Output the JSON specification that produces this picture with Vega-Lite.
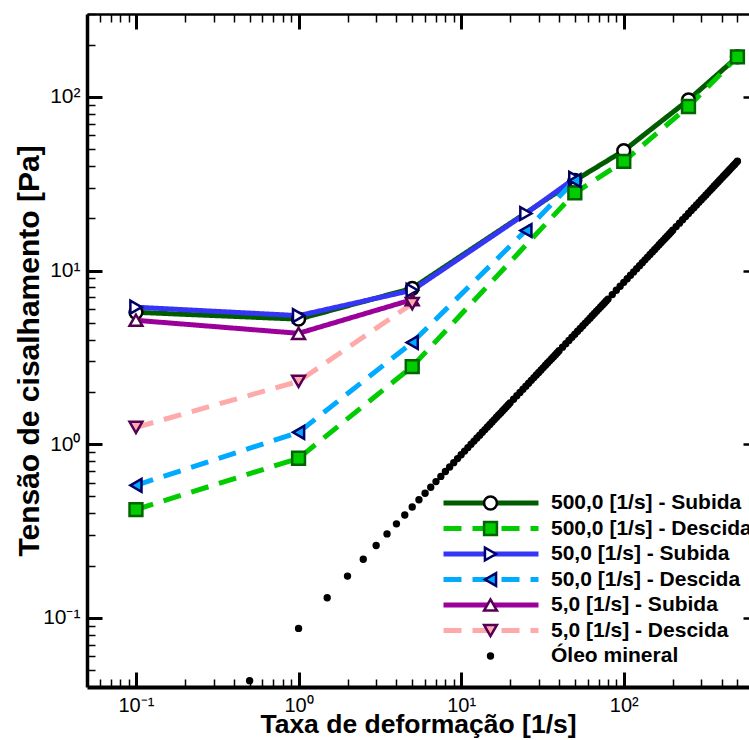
{
  "$schema": "https://vega.github.io/schema/vega-lite/v6.json",
  "width": 662,
  "height": 673,
  "autosize": "none",
  "padding": {"left": 87, "top": 14, "right": 0, "bottom": 53},
  "config": {
    "view": {"stroke": null},
    "font": "Liberation Sans",
    "axis": {
      "grid": false,
      "domainColor": "black",
      "domainWidth": 3,
      "tickColor": "black",
      "labelFont": "Liberation Sans",
      "labelFontSize": 21,
      "labelColor": "black",
      "labelFlush": false,
      "labelOverlap": false,
      "labelBound": false,
      "titleFont": "Liberation Sans",
      "titleFontWeight": "bold",
      "titleColor": "black"
    },
    "legend": {
      "padding": 0,
      "labelFont": "Liberation Sans",
      "labelFontSize": 21,
      "labelFontWeight": "bold",
      "labelColor": "black",
      "rowPadding": 5.5,
      "clipHeight": 20,
      "labelLimit": 400
    }
  },
  "data": {
    "values": [
      {"s": "500,0 [1/s] - Subida", "x": 0.1, "y": 5.75},
      {"s": "500,0 [1/s] - Subida", "x": 1, "y": 5.25},
      {"s": "500,0 [1/s] - Subida", "x": 5, "y": 7.9},
      {"s": "500,0 [1/s] - Subida", "x": 50, "y": 33},
      {"s": "500,0 [1/s] - Subida", "x": 100, "y": 49},
      {"s": "500,0 [1/s] - Subida", "x": 250, "y": 96},
      {"s": "500,0 [1/s] - Subida", "x": 500, "y": 170},
      {"s": "500,0 [1/s] - Descida", "x": 0.1, "y": 0.42},
      {"s": "500,0 [1/s] - Descida", "x": 1, "y": 0.83},
      {"s": "500,0 [1/s] - Descida", "x": 5, "y": 2.8},
      {"s": "500,0 [1/s] - Descida", "x": 50, "y": 28},
      {"s": "500,0 [1/s] - Descida", "x": 100, "y": 42.5},
      {"s": "500,0 [1/s] - Descida", "x": 250, "y": 88},
      {"s": "500,0 [1/s] - Descida", "x": 500, "y": 170},
      {"s": "50,0 [1/s] - Subida", "x": 0.1, "y": 6.15},
      {"s": "50,0 [1/s] - Subida", "x": 1, "y": 5.5},
      {"s": "50,0 [1/s] - Subida", "x": 5, "y": 7.7},
      {"s": "50,0 [1/s] - Subida", "x": 25, "y": 21.3},
      {"s": "50,0 [1/s] - Subida", "x": 50, "y": 34},
      {"s": "50,0 [1/s] - Descida", "x": 0.1, "y": 0.58},
      {"s": "50,0 [1/s] - Descida", "x": 1, "y": 1.17},
      {"s": "50,0 [1/s] - Descida", "x": 5, "y": 3.85},
      {"s": "50,0 [1/s] - Descida", "x": 25, "y": 17},
      {"s": "50,0 [1/s] - Descida", "x": 50, "y": 33},
      {"s": "5,0 [1/s] - Subida", "x": 0.1, "y": 5.17},
      {"s": "5,0 [1/s] - Subida", "x": 1, "y": 4.35},
      {"s": "5,0 [1/s] - Subida", "x": 5, "y": 6.8},
      {"s": "5,0 [1/s] - Descida", "x": 0.1, "y": 1.25},
      {"s": "5,0 [1/s] - Descida", "x": 1, "y": 2.3},
      {"s": "5,0 [1/s] - Descida", "x": 5, "y": 6.45},
      {"s": "Óleo mineral", "x": 0.5, "y": 0.0435},
      {"s": "Óleo mineral", "x": 1, "y": 0.087},
      {"s": "Óleo mineral", "x": 1.5, "y": 0.1305},
      {"s": "Óleo mineral", "x": 2, "y": 0.174},
      {"s": "Óleo mineral", "x": 2.5, "y": 0.2175},
      {"s": "Óleo mineral", "x": 3, "y": 0.261},
      {"s": "Óleo mineral", "x": 3.5, "y": 0.3045},
      {"s": "Óleo mineral", "x": 4, "y": 0.348},
      {"s": "Óleo mineral", "x": 4.5, "y": 0.3915},
      {"s": "Óleo mineral", "x": 5, "y": 0.435},
      {"s": "Óleo mineral", "x": 5.5, "y": 0.4785},
      {"s": "Óleo mineral", "x": 6, "y": 0.522},
      {"s": "Óleo mineral", "x": 6.5, "y": 0.5655},
      {"s": "Óleo mineral", "x": 7, "y": 0.609},
      {"s": "Óleo mineral", "x": 7.5, "y": 0.6525},
      {"s": "Óleo mineral", "x": 8, "y": 0.696},
      {"s": "Óleo mineral", "x": 8.5, "y": 0.7395},
      {"s": "Óleo mineral", "x": 9, "y": 0.783},
      {"s": "Óleo mineral", "x": 9.5, "y": 0.8265},
      {"s": "Óleo mineral", "x": 10, "y": 0.87},
      {"s": "Óleo mineral", "x": 10.5, "y": 0.913},
      {"s": "Óleo mineral", "x": 11, "y": 0.956},
      {"s": "Óleo mineral", "x": 11.5, "y": 0.999},
      {"s": "Óleo mineral", "x": 12, "y": 1.042},
      {"s": "Óleo mineral", "x": 12.5, "y": 1.085},
      {"s": "Óleo mineral", "x": 13, "y": 1.128},
      {"s": "Óleo mineral", "x": 13.5, "y": 1.171},
      {"s": "Óleo mineral", "x": 14, "y": 1.214},
      {"s": "Óleo mineral", "x": 14.5, "y": 1.257},
      {"s": "Óleo mineral", "x": 15, "y": 1.3},
      {"s": "Óleo mineral", "x": 15.5, "y": 1.343},
      {"s": "Óleo mineral", "x": 16, "y": 1.386},
      {"s": "Óleo mineral", "x": 16.5, "y": 1.429},
      {"s": "Óleo mineral", "x": 17, "y": 1.472},
      {"s": "Óleo mineral", "x": 17.5, "y": 1.515},
      {"s": "Óleo mineral", "x": 18, "y": 1.558},
      {"s": "Óleo mineral", "x": 18.5, "y": 1.601},
      {"s": "Óleo mineral", "x": 19, "y": 1.644},
      {"s": "Óleo mineral", "x": 19.5, "y": 1.687},
      {"s": "Óleo mineral", "x": 20, "y": 1.73},
      {"s": "Óleo mineral", "x": 21, "y": 1.816},
      {"s": "Óleo mineral", "x": 22, "y": 1.902},
      {"s": "Óleo mineral", "x": 23, "y": 1.988},
      {"s": "Óleo mineral", "x": 24, "y": 2.074},
      {"s": "Óleo mineral", "x": 25, "y": 2.16},
      {"s": "Óleo mineral", "x": 26, "y": 2.246},
      {"s": "Óleo mineral", "x": 27, "y": 2.332},
      {"s": "Óleo mineral", "x": 28, "y": 2.418},
      {"s": "Óleo mineral", "x": 29, "y": 2.504},
      {"s": "Óleo mineral", "x": 30, "y": 2.59},
      {"s": "Óleo mineral", "x": 31, "y": 2.676},
      {"s": "Óleo mineral", "x": 32, "y": 2.762},
      {"s": "Óleo mineral", "x": 33, "y": 2.848},
      {"s": "Óleo mineral", "x": 34, "y": 2.934},
      {"s": "Óleo mineral", "x": 35, "y": 3.02},
      {"s": "Óleo mineral", "x": 36, "y": 3.106},
      {"s": "Óleo mineral", "x": 37, "y": 3.192},
      {"s": "Óleo mineral", "x": 38, "y": 3.278},
      {"s": "Óleo mineral", "x": 39, "y": 3.364},
      {"s": "Óleo mineral", "x": 40, "y": 3.45},
      {"s": "Óleo mineral", "x": 42, "y": 3.62},
      {"s": "Óleo mineral", "x": 44, "y": 3.79},
      {"s": "Óleo mineral", "x": 46, "y": 3.96},
      {"s": "Óleo mineral", "x": 48, "y": 4.13},
      {"s": "Óleo mineral", "x": 50, "y": 4.3},
      {"s": "Óleo mineral", "x": 52, "y": 4.47},
      {"s": "Óleo mineral", "x": 54, "y": 4.64},
      {"s": "Óleo mineral", "x": 56, "y": 4.81},
      {"s": "Óleo mineral", "x": 58, "y": 4.98},
      {"s": "Óleo mineral", "x": 60, "y": 5.15},
      {"s": "Óleo mineral", "x": 62, "y": 5.32},
      {"s": "Óleo mineral", "x": 64, "y": 5.49},
      {"s": "Óleo mineral", "x": 66, "y": 5.66},
      {"s": "Óleo mineral", "x": 68, "y": 5.83},
      {"s": "Óleo mineral", "x": 70, "y": 6.0},
      {"s": "Óleo mineral", "x": 72, "y": 6.17},
      {"s": "Óleo mineral", "x": 74, "y": 6.34},
      {"s": "Óleo mineral", "x": 76, "y": 6.51},
      {"s": "Óleo mineral", "x": 78, "y": 6.68},
      {"s": "Óleo mineral", "x": 80, "y": 6.85},
      {"s": "Óleo mineral", "x": 85, "y": 7.27},
      {"s": "Óleo mineral", "x": 90, "y": 7.7},
      {"s": "Óleo mineral", "x": 95, "y": 8.12},
      {"s": "Óleo mineral", "x": 100, "y": 8.55},
      {"s": "Óleo mineral", "x": 105, "y": 8.97},
      {"s": "Óleo mineral", "x": 110, "y": 9.4},
      {"s": "Óleo mineral", "x": 115, "y": 9.82},
      {"s": "Óleo mineral", "x": 120, "y": 10.25},
      {"s": "Óleo mineral", "x": 125, "y": 10.67},
      {"s": "Óleo mineral", "x": 130, "y": 11.1},
      {"s": "Óleo mineral", "x": 135, "y": 11.52},
      {"s": "Óleo mineral", "x": 140, "y": 11.95},
      {"s": "Óleo mineral", "x": 145, "y": 12.37},
      {"s": "Óleo mineral", "x": 150, "y": 12.8},
      {"s": "Óleo mineral", "x": 155, "y": 13.22},
      {"s": "Óleo mineral", "x": 160, "y": 13.65},
      {"s": "Óleo mineral", "x": 165, "y": 14.07},
      {"s": "Óleo mineral", "x": 170, "y": 14.5},
      {"s": "Óleo mineral", "x": 175, "y": 14.92},
      {"s": "Óleo mineral", "x": 180, "y": 15.35},
      {"s": "Óleo mineral", "x": 185, "y": 15.77},
      {"s": "Óleo mineral", "x": 190, "y": 16.2},
      {"s": "Óleo mineral", "x": 195, "y": 16.62},
      {"s": "Óleo mineral", "x": 200, "y": 17.05},
      {"s": "Óleo mineral", "x": 210, "y": 17.9},
      {"s": "Óleo mineral", "x": 220, "y": 18.75},
      {"s": "Óleo mineral", "x": 230, "y": 19.6},
      {"s": "Óleo mineral", "x": 240, "y": 20.45},
      {"s": "Óleo mineral", "x": 250, "y": 21.3},
      {"s": "Óleo mineral", "x": 260, "y": 22.15},
      {"s": "Óleo mineral", "x": 270, "y": 23.0},
      {"s": "Óleo mineral", "x": 280, "y": 23.85},
      {"s": "Óleo mineral", "x": 290, "y": 24.7},
      {"s": "Óleo mineral", "x": 300, "y": 25.55},
      {"s": "Óleo mineral", "x": 310, "y": 26.4},
      {"s": "Óleo mineral", "x": 320, "y": 27.25},
      {"s": "Óleo mineral", "x": 330, "y": 28.1},
      {"s": "Óleo mineral", "x": 340, "y": 28.95},
      {"s": "Óleo mineral", "x": 350, "y": 29.8},
      {"s": "Óleo mineral", "x": 360, "y": 30.65},
      {"s": "Óleo mineral", "x": 370, "y": 31.5},
      {"s": "Óleo mineral", "x": 380, "y": 32.35},
      {"s": "Óleo mineral", "x": 390, "y": 33.2},
      {"s": "Óleo mineral", "x": 400, "y": 34.05},
      {"s": "Óleo mineral", "x": 410, "y": 34.9},
      {"s": "Óleo mineral", "x": 420, "y": 35.75},
      {"s": "Óleo mineral", "x": 430, "y": 36.6},
      {"s": "Óleo mineral", "x": 440, "y": 37.45},
      {"s": "Óleo mineral", "x": 450, "y": 38.3},
      {"s": "Óleo mineral", "x": 460, "y": 39.15},
      {"s": "Óleo mineral", "x": 470, "y": 40.0},
      {"s": "Óleo mineral", "x": 480, "y": 40.85},
      {"s": "Óleo mineral", "x": 490, "y": 41.7},
      {"s": "Óleo mineral", "x": 500, "y": 42.55}
    ]
  },
  "layer": [
    {
      "transform": [{"filter": "datum.s != 'Óleo mineral'"}],
      "mark": {"type": "line", "strokeWidth": 5},
      "encoding": {
        "x": {
          "field": "x", "type": "quantitative",
          "scale": {"type": "log", "domain": [0.05, 589], "nice": false},
          "axis": {
            "orient": "bottom",
            "values": [0.06, 0.07, 0.08, 0.09, 0.1, 0.2, 0.3, 0.4, 0.5, 0.6, 0.7, 0.8, 0.9, 1, 2, 3, 4, 5, 6, 7, 8, 9, 10, 20, 30, 40, 50, 60, 70, 80, 90, 100, 200, 300, 400, 500],
            "labelExpr": "datum.value == 0.1 ? '10⁻¹' : datum.value == 1 ? '10⁰' : datum.value == 10 ? '10¹' : datum.value == 100 ? '10²' : ''",
            "tickSize": {"condition": {"test": "datum.value == 0.1 || datum.value == 1 || datum.value == 10 || datum.value == 100", "value": -15}, "value": -8},
            "tickWidth": {"condition": {"test": "datum.value == 0.1 || datum.value == 1 || datum.value == 10 || datum.value == 100", "value": 3}, "value": 1.5},
            "labelPadding": 23,
            "labelFontSize": 20,
            "domainWidth": 4,
            "title": "Taxa de deformação [1/s]",
            "titleFontSize": 26.5,
            "titlePadding": -11
          }
        },
        "y": {
          "field": "y", "type": "quantitative",
          "scale": {"type": "log", "domain": [0.04, 300], "nice": false},
          "axis": {
            "orient": "left",
            "values": [0.05, 0.06, 0.07, 0.08, 0.09, 0.1, 0.2, 0.3, 0.4, 0.5, 0.6, 0.7, 0.8, 0.9, 1, 2, 3, 4, 5, 6, 7, 8, 9, 10, 20, 30, 40, 50, 60, 70, 80, 90, 100, 200, 300],
            "labelExpr": "datum.value == 0.1 ? '10⁻¹' : datum.value == 1 ? '10⁰' : datum.value == 10 ? '10¹' : datum.value == 100 ? '10²' : ''",
            "tickSize": {"condition": {"test": "datum.value == 0.1 || datum.value == 1 || datum.value == 10 || datum.value == 100", "value": -15}, "value": -8},
            "tickWidth": {"condition": {"test": "datum.value == 0.1 || datum.value == 1 || datum.value == 10 || datum.value == 100", "value": 3}, "value": 1.5},
            "labelPadding": 22,
            "domainWidth": 3.5,
            "title": "Tensão de cisalhamento [Pa]",
            "titleFontSize": 30,
            "titlePadding": -2
          }
        },
        "color": {
          "field": "s", "type": "nominal",
          "scale": {
            "domain": ["500,0 [1/s] - Subida", "500,0 [1/s] - Descida", "50,0 [1/s] - Subida", "50,0 [1/s] - Descida", "5,0 [1/s] - Subida", "5,0 [1/s] - Descida"],
            "range": ["#005c00", "#00cc00", "#3535f5", "#00aaff", "#9b009b", "#ffaaaa"]
          },
          "legend": {
            "orient": "none", "legendX": 354, "legendY": 479, "title": null,
            "symbolType": "stroke", "symbolSize": 9025, "symbolStrokeWidth": 5,
            "rowPadding": 4.5, "labelExpr": "''"
          }
        },
        "strokeDash": {
          "field": "s", "type": "nominal",
          "scale": {
            "domain": ["500,0 [1/s] - Subida", "500,0 [1/s] - Descida", "50,0 [1/s] - Subida", "50,0 [1/s] - Descida", "5,0 [1/s] - Subida", "5,0 [1/s] - Descida"],
            "range": [[1, 0], [18, 11], [1, 0], [18, 11], [1, 0], [18, 11]]
          },
          "legend": {
            "orient": "none", "legendX": 354, "legendY": 479, "title": null,
            "symbolType": "stroke", "symbolSize": 9025, "symbolStrokeWidth": 5,
            "rowPadding": 4.5, "labelExpr": "''"
          }
        }
      }
    },
    {
      "mark": {"type": "point", "filled": true, "strokeWidth": 2.5, "opacity": 1, "size": 165},
      "encoding": {
        "x": {
          "field": "x", "type": "quantitative",
          "axis": {
            "orient": "top",
            "values": [0.06, 0.07, 0.08, 0.09, 0.1, 0.2, 0.3, 0.4, 0.5, 0.6, 0.7, 0.8, 0.9, 1, 2, 3, 4, 5, 6, 7, 8, 9, 10, 20, 30, 40, 50, 60, 70, 80, 90, 100, 200, 300, 400, 500],
            "labels": false,
            "tickSize": {"condition": {"test": "datum.value == 0.1 || datum.value == 1 || datum.value == 10 || datum.value == 100", "value": -15}, "value": -8},
            "tickWidth": {"condition": {"test": "datum.value == 0.1 || datum.value == 1 || datum.value == 10 || datum.value == 100", "value": 3}, "value": 1.5},
            "domainWidth": 2.5,
            "title": null
          }
        },
        "y": {
          "field": "y", "type": "quantitative",
          "axis": {
            "orient": "right",
            "values": [0.1, 1, 10, 100],
            "labels": false,
            "tickSize": -6,
            "tickWidth": 2.5,
            "domain": false,
            "title": null
          }
        },
        "shape": {
          "field": "s", "type": "nominal",
          "scale": {
            "domain": ["500,0 [1/s] - Subida", "500,0 [1/s] - Descida", "50,0 [1/s] - Subida", "50,0 [1/s] - Descida", "5,0 [1/s] - Subida", "5,0 [1/s] - Descida", "Óleo mineral"],
            "range": ["circle", "square", "triangle-right", "triangle-left", "triangle-up", "triangle-down", "M0.38,0A0.38,0.38 0 1,1 -0.38,0A0.38,0.38 0 1,1 0.38,0Z"]
          },
          "legend": {
            "orient": "none", "legendX": 393, "legendY": 479, "title": null,
            "symbolStrokeWidth": 2.5, "symbolSize": 165, "labelOffset": 50, "rowPadding": 4.5
          }
        },
        "fill": {
          "field": "s", "type": "nominal",
          "scale": {
            "domain": ["500,0 [1/s] - Subida", "500,0 [1/s] - Descida", "50,0 [1/s] - Subida", "50,0 [1/s] - Descida", "5,0 [1/s] - Subida", "5,0 [1/s] - Descida", "Óleo mineral"],
            "range": ["#ffffff", "#00cc00", "#ffffff", "#00aaff", "#ffffff", "#ffaaaa", "#000000"]
          },
          "legend": {
            "orient": "none", "legendX": 393, "legendY": 479, "title": null,
            "symbolStrokeWidth": 2.5, "symbolSize": 165, "labelOffset": 50, "rowPadding": 4.5
          }
        },
        "stroke": {
          "field": "s", "type": "nominal",
          "scale": {
            "domain": ["500,0 [1/s] - Subida", "500,0 [1/s] - Descida", "50,0 [1/s] - Subida", "50,0 [1/s] - Descida", "5,0 [1/s] - Subida", "5,0 [1/s] - Descida", "Óleo mineral"],
            "range": ["#000000", "#006400", "#000066", "#000066", "#550055", "#550055", "#000000"]
          },
          "legend": {
            "orient": "none", "legendX": 393, "legendY": 479, "title": null,
            "symbolStrokeWidth": 2.5, "symbolSize": 165, "labelOffset": 50, "rowPadding": 4.5
          }
        }
      }
    }
  ],
  "resolve": {"axis": {"x": "independent", "y": "independent"}}
}
